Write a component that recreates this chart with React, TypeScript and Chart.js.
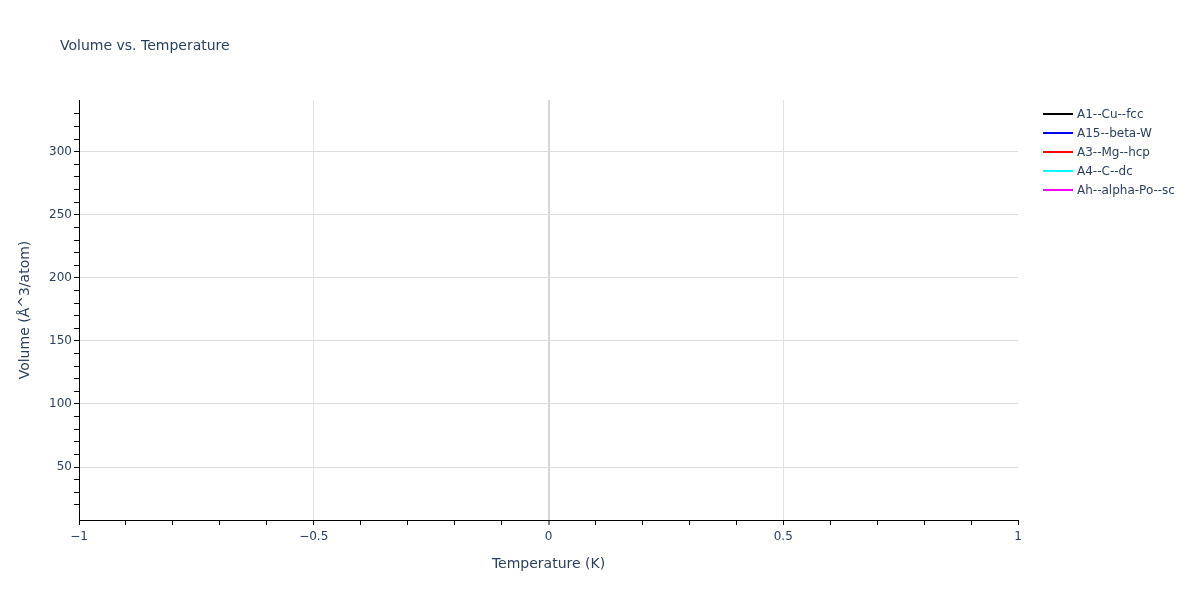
import React, { useEffect, useRef } from 'react';
import { Chart, registerables } from 'chart.js';

Chart.register(...registerables);

// temperatures (K) and volumes (Å^3/atom) per structure
const temperatures = [0];
const a1CuFcc = [25];
const a15BetaW = [326];
const a3MgHcp = [48];
const a4CDc = [70];
const ahAlphaPoSc = [160];

const seriesNames = ['A1--Cu--fcc', 'A15--beta-W', 'A3--Mg--hcp', 'A4--C--dc', 'Ah--alpha-Po--sc'];
const seriesValues = [a1CuFcc, a15BetaW, a3MgHcp, a4CDc, ahAlphaPoSc];
const seriesColors = ['black', 'blue', 'red', 'cyan', 'magenta'];

const xTickLabels = [-1, -0.5, 0, 0.5, 1];
const yTickLabels = [50, 100, 150, 200, 250, 300];

const FONT = '"DejaVu Sans", Verdana, sans-serif';
const TEXT = '#2a3f5f';

const near = (a: number, b: number) => Math.abs(a - b) < 1e-6;
const fmt = (v: number) => (v < 0 ? '\u2212' + Math.abs(v) : String(v));

const App: React.FC = () => {
  const canvasRef = useRef<HTMLCanvasElement | null>(null);

  useEffect(() => {
    const ctx = canvasRef.current?.getContext('2d');
    if (!ctx) return;

    const chart = new Chart(ctx, {
      type: 'line',
      data: {
        datasets: seriesNames.map((name, i) => ({
          label: name,
          data: temperatures.map((t, j) => ({ x: t, y: seriesValues[i][j] })),
          borderColor: seriesColors[i],
          backgroundColor: seriesColors[i],
          borderWidth: 2,
          pointRadius: 0,
        })),
      },
      options: {
        animation: false,
        responsive: true,
        maintainAspectRatio: false,
        layout: { padding: { top: 100, right: 182, left: 0, bottom: 0 } },
        plugins: { legend: { display: false }, title: { display: false }, tooltip: { enabled: false } },
        scales: {
          x: {
            type: 'linear',
            min: -1,
            max: 1,
            afterFit: (s: any) => { s.height = 80; },
            border: { display: true, color: '#000', width: 1 },
            grid: {
              color: (c: any) => {
                const v = c.tick?.value ?? 99;
                if (near(v, 0)) return '#d6d6d6';
                if (xTickLabels.some(l => near(l, v)) && !near(Math.abs(v), 1)) return '#e2e2e2';
                return 'rgba(0,0,0,0)';
              },
              lineWidth: (c: any) => (near(c.tick?.value ?? 99, 0) ? 2 : 1),
              tickColor: '#000',
              tickWidth: 1,
              tickLength: 5,
            },
            ticks: {
              stepSize: 0.1,
              autoSkip: false,
              maxRotation: 0,
              padding: 5,
              color: TEXT,
              font: { family: FONT, size: 12 },
              callback: (v: any) => {
                const l = xTickLabels.find(t => near(t, Number(v)));
                return l === undefined ? '' : fmt(l);
              },
            },
            title: {
              display: true,
              text: 'Temperature (K)',
              color: TEXT,
              font: { family: FONT, size: 14 },
              padding: { top: 0, bottom: 27 },
            },
          },
          y: {
            type: 'linear',
            min: 8,
            max: 341,
            afterFit: (s: any) => { s.width = 79; },
            afterBuildTicks: (s: any) => { s.ticks = s.ticks.filter((t: any) => Math.round(t.value) % 10 === 0); },
            border: { display: true, color: '#000', width: 1 },
            grid: {
              color: (c: any) => (yTickLabels.includes(Math.round(c.tick?.value ?? -1)) ? '#dcdcdc' : 'rgba(0,0,0,0)'),
              tickColor: '#000',
              tickWidth: 1,
              tickLength: 5,
            },
            ticks: {
              stepSize: 10,
              autoSkip: false,
              padding: 2,
              color: TEXT,
              font: { family: FONT, size: 12 },
              callback: (v: any) => (yTickLabels.includes(Math.round(Number(v))) ? String(Math.round(Number(v))) : ''),
            },
            title: {
              display: true,
              text: 'Volume (Å^3/atom)',
              color: TEXT,
              font: { family: FONT, size: 14 },
              padding: { top: 17, bottom: 0 },
            },
          },
        },
      },
    });

    return () => {
      chart.destroy();
    };
  }, []);

  return (
    <div style={{ position: 'absolute', left: 0, top: 0, width: 1200, height: 600, background: '#fff', fontFamily: FONT }}>
      <canvas ref={canvasRef}></canvas>
      <div style={{ position: 'absolute', left: 60, top: 35, fontSize: 14, lineHeight: '20px', color: TEXT }}>
        Volume vs. Temperature
      </div>
      <div style={{ position: 'absolute', left: 1043, top: 105 }}>
        {seriesNames.map((name, i) => (
          <div key={name} style={{ display: 'flex', alignItems: 'center', height: 18.8 }}>
            <span style={{ display: 'inline-block', width: 30, height: 2, background: seriesColors[i] }}></span>
            <span style={{ marginLeft: 4, fontSize: 12, color: TEXT, whiteSpace: 'nowrap' }}>{name}</span>
          </div>
        ))}
      </div>
    </div>
  );
};

export default App;
